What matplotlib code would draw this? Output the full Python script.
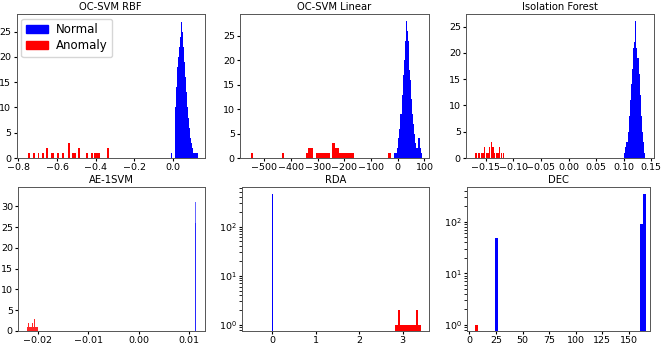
import matplotlib
matplotlib.use("Agg")
import matplotlib.pyplot as plt
import numpy as np
from matplotlib.patches import Patch

# --- OC-SVM RBF ---
rbf_norm_x = np.arange(-0.010, 0.1251, 0.005)
rbf_norm_y = [1, 2, 3, 5, 7, 10, 14, 18, 20, 22, 24, 27, 25, 22, 19, 16, 13, 10, 8, 6, 4, 3, 2, 1, 1, 1, 1, 1]
rbf_anom_x = [-0.744, -0.718, -0.696, -0.672, -0.653, -0.628, -0.620, -0.595, -0.569, -0.538,
              -0.518, -0.508, -0.487, -0.445, -0.419, -0.405, -0.395, -0.385, -0.337]
rbf_anom_y = [1, 1, 1, 1, 2, 1, 1, 1, 1, 3, 1, 1, 2, 1, 1, 1, 1, 1, 2]

# --- OC-SVM Linear ---
lin_norm_x = np.arange(-12, 89, 4)
lin_norm_y = [1, 1, 1, 2, 4, 6, 9, 13, 17, 20, 24, 28, 26, 24, 18, 16, 12, 9, 7, 5, 3, 2, 4, 4, 2, 1]
lin_anom_x = [-545, -431, -341, -332, -323, -302, -293, -284, -275, -266, -257,
              -241, -232, -223, -214, -205, -196, -187, -178, -169, -31]
lin_anom_y = [1, 1, 1, 2, 2, 1, 1, 1, 1, 1, 1, 3, 2, 2, 1, 1, 1, 1, 1, 1, 1]

# --- Isolation Forest ---
if_norm_x = np.arange(0.102, 0.1381, 0.002)
if_norm_y = [1, 2, 3, 5, 8, 11, 14, 17, 21, 22, 26, 21, 19, 16, 12, 8, 5, 3, 1]
if_anom_x = [-0.168, -0.164, -0.161, -0.158, -0.155, -0.152, -0.149, -0.146, -0.143,
             -0.140, -0.137, -0.134, -0.131, -0.128, -0.125, -0.122, -0.118]
if_anom_y = [1, 1, 1, 1, 1, 2, 1, 1, 2, 3, 2, 1, 1, 1, 2, 1, 1]

# --- AE-1SVM ---
ae_norm_x = [0.01113, 0.01120, 0.01127, 0.01134]
ae_norm_y = [33, 31, 26, 18]
ae_anom_x = [-0.0221, -0.0219, -0.0217, -0.0215, -0.0213, -0.0211, -0.0209, -0.0207, -0.0205, -0.0203, -0.0201]
ae_anom_y = [1, 2, 1, 1, 1, 2, 1, 3, 1, 1, 1]

# --- RDA ---
rda_norm_x = [0.005]
rda_norm_y = [464]
rda_anom_x = np.arange(2.84, 3.41, 0.04)
rda_anom_y = [1, 1, 2, 1, 1, 1, 1, 1, 1, 1, 1, 1, 2, 1, 1]

# --- DEC ---
dec_norm_x = [25.6, 161.4, 164.4]
dec_norm_y = [48, 92, 340]
dec_anom_x = [6.8, 7.2]
dec_anom_y = [1, 2]

xticks = [
    [-0.8, -0.6, -0.4, -0.2, 0.0],
    [-500, -400, -300, -200, -100, 0, 100],
    [-0.15, -0.10, -0.05, 0.00, 0.05, 0.10, 0.15],
    [-0.02, -0.01, 0.00, 0.01],
    [0, 1, 2, 3],
    [0, 25, 50, 75, 100, 125, 150],
]
xfmt = ["%.1f", "%d", "%.2f", "%.2f", "%d", "%d"]

panels = [
    ("OC-SVM RBF", rbf_norm_x, rbf_norm_y, 0.0045, rbf_anom_x, rbf_anom_y, 0.010, False, (-0.81, 0.163), (0, 28.5)),
    ("OC-SVM Linear", lin_norm_x, lin_norm_y, 4, lin_anom_x, lin_anom_y, 9, False, (-591, 117), (0, 29.5)),
    ("Isolation Forest", if_norm_x, if_norm_y, 0.0019, if_anom_x, if_anom_y, 0.0022, False, (-0.186, 0.155), (0, 27.4)),
    ("AE-1SVM", ae_norm_x, ae_norm_y, 0.0001, ae_anom_x, ae_anom_y, 0.00018, False, (-0.0239, 0.0131), (0, 34.6)),
    ("RDA", rda_norm_x, rda_norm_y, 0.035, rda_anom_x, rda_anom_y, 0.038, True, (-0.69, 3.61), (0.75, 630)),
    ("DEC", dec_norm_x, dec_norm_y, 3.1, dec_anom_x, dec_anom_y, 3.1, True, (-2.5, 169.7), (0.766, 462)),
]

# axes boxes in pixels: left, right, top, bottom
boxes = [
    (16.5, 204.5, 14, 158), (240, 429, 14, 158), (466, 654, 14, 158),
    (18, 205, 187.3, 331), (242.3, 429.3, 187.3, 331), (466.7, 650, 187.3, 331),
]

W, H = 664, 348
fig = plt.figure(figsize=(W / 100, H / 100), dpi=100)

for i, ((title, nx, ny, nw, ax_, ay, aw, logy, xl, yl), (l, r, t, b)) in enumerate(zip(panels, boxes)):
    ax = fig.add_axes([l / W, 1 - b / H, (r - l) / W, (b - t) / H])
    if logy:
        ax.set_yscale("log")
    alpha = 0.6 if title == "AE-1SVM" else 1.0
    ax.bar(nx, ny, width=nw, color="blue", alpha=alpha, linewidth=0)
    if title == "DEC":
        ax.bar(ax_[0], ay[0], width=aw, color="red", linewidth=0)
        ax.bar(ax_[1], ay[1], width=0.6, color="red", alpha=0.35, linewidth=0)
    else:
        ax.bar(ax_, ay, width=aw, color="red", alpha=0.85 if title == "AE-1SVM" else 1.0, linewidth=0)
    ax.set_xlim(*xl)
    ax.set_ylim(*yl)
    ax.set_xticks(xticks[i])
    ax.set_xticklabels([(xfmt[i] % v).replace("-", "\u2212") for v in xticks[i]])
    ax.set_title(title, fontsize=7.2, pad=3)
    ax.tick_params(labelsize=6.8, length=2.5, pad=1.2)
    for s in ax.spines.values():
        s.set_linewidth(0.7)
        s.set_color("#555555")
    if title == "OC-SVM RBF":
        handles = [Patch(color="blue", label="Normal"), Patch(color="red", label="Anomaly")]
        ax.legend(handles=handles, loc="upper left", fontsize=8.5, handlelength=1.9,
                  borderaxespad=0.4, labelspacing=0.25, handletextpad=0.6)

fig.savefig("out.png", dpi=100)
